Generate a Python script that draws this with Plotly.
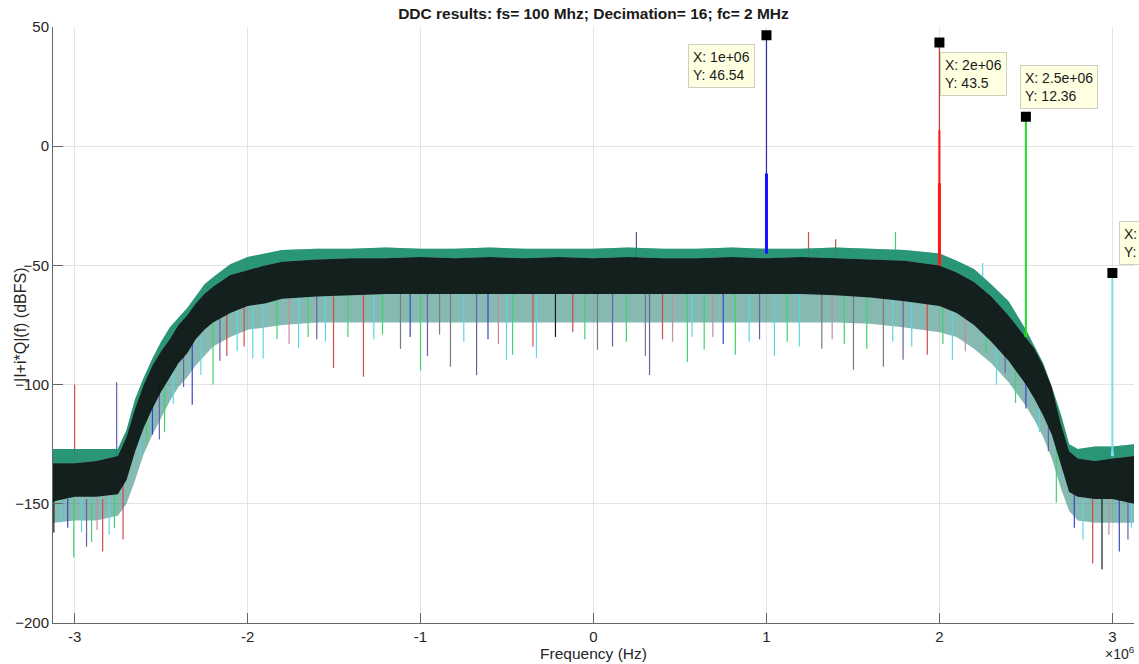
import plotly.graph_objects as go

# ---------------------------------------------------------------------------
# Overlaid DDC output spectra (several captures), frequency in MHz, level dBFS
# ---------------------------------------------------------------------------
env_f = [-3.125, -3.0, -2.875, -2.75, -2.7, -2.65, -2.6, -2.55, -2.5, -2.45,
         -2.4, -2.35, -2.3, -2.25, -2.2, -2.1, -2.0, -1.9, -1.8, -1.6,
         -1.4, -1.2, -1.0, -0.8, -0.6, -0.4, -0.2, 0.0, 0.2, 0.4,
         0.6, 0.8, 1.0, 1.2, 1.4, 1.6, 1.8, 2.0, 2.1, 2.2,
         2.3, 2.4, 2.5, 2.55, 2.6, 2.65, 2.7, 2.75, 2.8, 2.9,
         3.0, 3.125]

# upper tips of the noise floor
env_top = [-127, -127, -127, -127, -119, -106, -97, -89, -82, -76,
           -72, -68, -63, -58, -55, -49.5, -46.5, -45, -43.5, -43,
           -43, -42.5, -43, -43, -42.5, -43, -43, -43, -42.5, -43,
           -43, -42.5, -43, -43, -42.5, -43, -43.5, -45, -48, -51.5,
           -58, -65, -77, -84, -91, -101, -112, -125, -127, -126,
           -126, -125]

# dense (black) core of the overlaid traces
core_top = [-133, -133, -132, -130, -122, -110, -100, -92, -86, -81,
            -75, -71, -66, -62, -59, -54, -52, -50, -48.5, -47.5,
            -47, -47, -46.5, -47, -46.5, -47, -46.5, -47, -46.5, -47,
            -47, -46.5, -47, -46.5, -47, -47.5, -48, -50, -53, -57,
            -63, -71, -80, -85, -92, -101, -116, -128, -131, -132,
            -131, -130]

core_bot = [-149, -147, -147, -146, -140, -128, -118, -110, -103, -97,
            -91, -87, -81, -77, -74, -70, -67, -66, -64, -63,
            -62.5, -62, -62, -62, -62, -62, -62, -62, -62, -62,
            -62, -62, -62, -62, -62.5, -63.5, -65, -67, -70, -75,
            -82, -90, -100, -106, -113, -121, -133, -145, -147, -148,
            -148, -150]

# lower edge of the dense coloured fringe
fringe_lo = [-158, -157, -157, -155, -150, -140, -129, -121, -114, -107,
             -101, -97, -92, -88, -84, -80, -77, -76, -75, -74,
             -74, -74, -74, -74, -74, -74, -74, -74, -74, -74,
             -74, -74, -74, -74, -74, -74.5, -76, -78, -80, -85,
             -91, -99, -109, -115, -122, -131, -143, -153, -157, -158,
             -158, -158]

# individual bins that stick out of the floor (MHz, low dB, high dB, trace)
spike_f = [-3.0, -2.757, 0.248, 1.243, 1.40, 1.746, 2.25,
           -3.12, -3.08, -3.04, -3.005, -2.96, -2.931, -2.902, -2.87, -2.838,
           -2.80, -2.77, -2.72,
           -2.62, -2.584, -2.55, -2.51, -2.48, -2.43, -2.37, -2.32, -2.27,
           -2.2, -2.16, -2.12, -2.06, -2.02, -1.97,
           -1.91, -1.83, -1.76, -1.705, -1.65, -1.6, -1.55, -1.503, -1.42,
           -1.33, -1.27, -1.22, -1.116, -1.06, -1.0, -0.96, -0.89, -0.827,
           -0.75, -0.676, -0.61, -0.55,
           -0.503, -0.468, -0.35, -0.33, -0.22, -0.12, -0.05, 0.023, 0.11, 0.19,
           0.30, 0.324, 0.399, 0.457, 0.543, 0.57, 0.64, 0.69, 0.75, 0.82, 0.9,
           0.96, 1.046, 1.12, 1.19, 1.32, 1.38, 1.45, 1.503, 1.58, 1.676, 1.73,
           1.79, 1.84, 1.93, 2.02, 2.075, 2.15, 2.27, 2.33, 2.38, 2.44, 2.5,
           2.578, 2.63, 2.676, 2.72, 2.78, 2.83, 2.886, 2.94, 2.98, 3.04,
           3.09, 3.11]
spike_lo = [-132, -132, -48, -48, -47, -48, -58,
            -162, -158, -160, -172.5, -162, -168, -166, -161, -170,
            -163, -160, -165,
            -130, -124, -121, -123, -120, -108, -101, -108.5, -96,
            -100, -90, -88, -86, -84, -88.8,
            -89, -81, -83, -84.6, -80, -81, -82, -93, -80,
            -96.7, -81, -79, -85, -80, -94, -88, -79, -92.5,
            -82, -96, -81, -83,
            -89.6, -87.5, -84, -88.8, -80, -78, -81, -85.4, -84, -82,
            -88, -96, -81, -82, -90.5, -80, -85.4, -80, -83, -87.5, -82,
            -81, -88, -82, -84, -85, -81, -83, -93.8, -85, -92.5, -82,
            -89.6, -84, -87.5, -83, -89.6, -86, -87, -100, -95, -107.7, -110,
            -120, -128, -149.5, -140, -160, -165, -175, -177.5, -163, -170,
            -165, -160]
spike_hi = [-100, -99, -36, -36, -39, -36, -49,
            -148, -148, -148, -148, -148, -148, -148, -148, -148,
            -148, -146, -140,
            -115, -110, -108, -100, -98, -93, -88, -82, -80,
            -74, -72, -70, -68, -67, -67,
            -66, -64, -64, -63, -63, -63, -63, -63, -62,
            -62, -62, -62, -62, -62, -62, -62, -62, -62,
            -62, -62, -62, -62,
            -62, -62, -62, -62, -62, -62, -62, -62, -62, -62,
            -62, -62, -62, -62, -62, -62, -62, -62, -62, -62, -62,
            -62, -62, -62, -62, -62, -62, -62, -62, -63, -63, -64,
            -64, -64, -66, -68, -68, -72, -78, -82, -86, -90, -98,
            -110, -118, -125, -134, -146, -148, -148, -148, -148, -148,
            -148, -148]
spike_trace = ["red", "violet", "slate", "red", "red", "green", "cyan",
               "black", "cyan", "blue", "green", "cyan", "violet", "green", "pink", "red",
               "cyan", "green", "red",
               "cyan", "green", "blue", "violet", "green", "cyan", "violet", "blue", "cyan",
               "green", "violet", "red", "cyan", "red", "cyan",
               "cyan", "green", "pink", "cyan", "green", "violet", "cyan", "red", "green",
               "red", "cyan", "green", "gray", "blue", "green", "violet", "gray", "gray",
               "cyan", "violet", "blue", "pink",
               "cyan", "green", "red", "cyan", "black", "red", "green", "gray", "violet", "green",
               "gray", "violet", "red", "pink", "green", "cyan", "green", "pink", "blue", "green", "cyan",
               "violet", "cyan", "green", "cyan", "gray", "pink", "green", "gray", "green", "gray", "cyan",
               "violet", "cyan", "red", "green", "cyan", "pink", "green", "cyan", "violet", "green", "blue",
               "cyan", "violet", "green", "cyan", "blue", "cyan", "red", "black", "pink", "blue",
               "violet", "cyan"]

# tones found by the data cursor
peak_f = [1.0, 2.0, 2.5, 3.0]
peak_db = [46.54, 43.5, 12.36, -53.2]
peak_base = [-45, -50, -80, -130]
peak_skirt = [-11.5, -15.5, -78, -128]     # neighbouring bins (wider stroke)
peak_mid = [-11.5, 6.7, -78, -128]
peak_trace = ["blue", "red", "green", "cyan"]

# ---------------------------------------------------------------------------
FONT = "Liberation Sans, Arial, Helvetica, sans-serif"
TXT = "#262626"
stroke = {"red": "#d24a4a", "green": "#3fd36c", "blue": "#3a46c8",
          "cyan": "#5cd6e6", "violet": "#6a5fa8", "black": "#1a1a1a",
          "gray": "#7a7a7a", "pink": "#c88aa0", "slate": "#56568a"}
tone_thin = {"blue": "#3535a5", "red": "#d03c3c", "green": "#22dd22", "cyan": "#7adcec"}
tone_thick = {"blue": "#1414ff", "red": "#ff1a1a", "green": "#22dd22", "cyan": "#7adcec"}

MHZ = 1e6
fx = [v * MHZ for v in env_f]

fig = go.Figure()


def band(lo, hi, color):
    fig.add_trace(go.Scatter(x=fx, y=lo, mode="lines", line=dict(width=0),
                             showlegend=False, hoverinfo="skip"))
    fig.add_trace(go.Scatter(x=fx, y=hi, mode="lines", line=dict(width=0),
                             fill="tonexty", fillcolor=color,
                             showlegend=False, hoverinfo="skip"))


# coloured fringe of all captures
band(fringe_lo, env_top, "rgba(45,135,122,0.58)")

# isolated bins
for name in stroke:
    xs, ys = [], []
    for f, lo, hi, t in zip(spike_f, spike_lo, spike_hi, spike_trace):
        if t == name:
            xs += [f * MHZ, f * MHZ, None]
            ys += [lo, hi, None]
    if xs:
        fig.add_trace(go.Scatter(x=xs, y=ys, mode="lines",
                                 line=dict(color=stroke[name], width=1.2),
                                 showlegend=False, hoverinfo="skip"))

# upper cyan/green edge and the dense black core
band(core_top, env_top, "rgba(25,145,108,0.85)")
band(core_bot, core_top, "rgba(4,10,8,0.88)")

# tones
for f, top, base, skirt, mid, t in zip(peak_f, peak_db, peak_base, peak_skirt,
                                       peak_mid, peak_trace):
    fig.add_trace(go.Scatter(x=[f * MHZ, f * MHZ], y=[base, top], mode="lines",
                             line=dict(color=tone_thin[t], width=1.3 if t in ("blue", "red") else 2),
                             showlegend=False, hoverinfo="skip"))
    fig.add_trace(go.Scatter(x=[f * MHZ, f * MHZ], y=[base, mid], mode="lines",
                             line=dict(color=tone_thick[t], width=2),
                             showlegend=False, hoverinfo="skip"))
    fig.add_trace(go.Scatter(x=[f * MHZ, f * MHZ], y=[base, skirt], mode="lines",
                             line=dict(color=tone_thick[t], width=3),
                             showlegend=False, hoverinfo="skip"))

# data cursor markers
fig.add_trace(go.Scatter(x=[f * MHZ for f in peak_f], y=peak_db, mode="markers",
                         marker=dict(symbol="square", size=10, color="black"),
                         showlegend=False, hoverinfo="skip"))

tip_offsets = [(-45, 31, "center"), (34, 31, "center"), (33, -30, "center"), (7, -30, "left")]
for f, v, (ax, ay, anchor) in zip(peak_f, peak_db, tip_offsets):
    fig.add_annotation(x=f * MHZ, y=v, xref="x", yref="y",
                       text=f"X: {f * MHZ:g}<br>Y: {v:g}", align="left",
                       xanchor=anchor, yanchor="middle",
                       showarrow=True, arrowcolor="rgba(0,0,0,0)", arrowwidth=0.1,
                       ax=ax, ay=ay, axref="pixel", ayref="pixel",
                       bgcolor="#ffffe1", bordercolor="#cfcfc0", borderwidth=1,
                       borderpad=4, font=dict(family=FONT, size=14, color="#1a1a1a"))

# axis exponent
fig.add_annotation(x=1, y=0, xref="paper", yref="paper", xanchor="right", yanchor="top",
                   xshift=3, yshift=-19, showarrow=False,
                   text="\u00d710<sup>6</sup>", font=dict(family=FONT, size=14, color=TXT))

# y axis label
fig.add_annotation(x=0, y=0.5, xref="paper", yref="paper", xanchor="center", yanchor="middle",
                   xshift=-33, showarrow=False, textangle=-90,
                   text="|I+i*Q|(f) (dBFS)", font=dict(family=FONT, size=16, color=TXT))

axis_common = dict(showgrid=True, gridcolor="#e4e4e4", gridwidth=1,
                   showline=True, linecolor="#666666", linewidth=1,
                   ticks="inside", ticklen=10, tickcolor="#666666", tickwidth=1,
                   zeroline=False, mirror=False,
                   tickfont=dict(family=FONT, size=15, color=TXT))

fig.update_layout(
    width=1139, height=664,
    margin=dict(l=53, r=5, t=27, b=41),
    paper_bgcolor="white", plot_bgcolor="white",
    title=dict(text="<b>DDC results: fs= 100 Mhz; Decimation= 16; fc= 2 MHz</b>",
               x=0.5, xref="paper", xanchor="center",
               y=1 - 14 / 664, yref="container", yanchor="middle",
               font=dict(family=FONT, size=15.5, color="#1a1a1a")),
    xaxis=dict(range=[-3.125e6, 3.125e6],
               tickvals=[v * MHZ for v in [-3, -2, -1, 0, 1, 2, 3]],
               ticktext=["-3", "-2", "-1", "0", "1", "2", "3"],
               title=dict(text="Frequency (Hz)", standoff=0,
                          font=dict(family=FONT, size=15.5, color=TXT)),
               **axis_common),
    yaxis=dict(range=[-200, 50], tickvals=[-200, -150, -100, -50, 0, 50],
               **axis_common),
)

fig.write_html("out.html")
